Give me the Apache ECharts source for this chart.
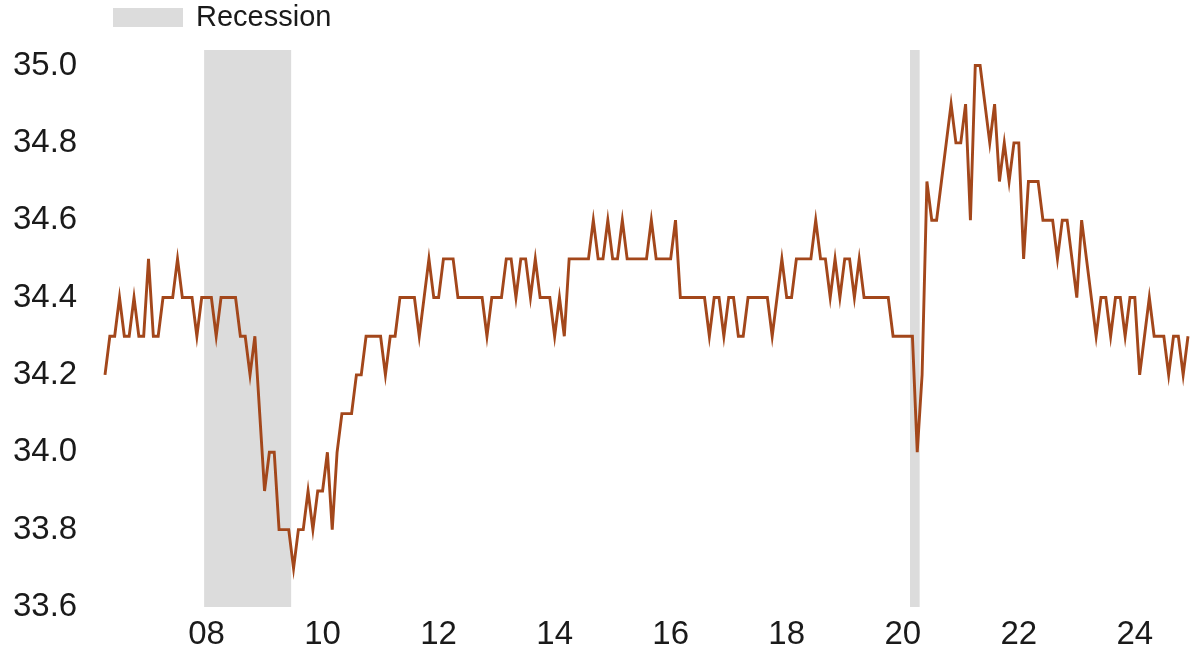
<!DOCTYPE html>
<html>
<head>
<meta charset="utf-8">
<script src="https://cdn.jsdelivr.net/npm/echarts@6/dist/echarts.min.js"></script>
<style>
  html, body { margin: 0; padding: 0; background: #ffffff; }
  #chart { width: 1195px; height: 651px; }
</style>
</head>
<body>
<div id="chart"></div>
<script>
// Monthly series starts here (one value per month, consecutive)
const firstMonth = '2006-03';

// Average weekly hours, Mar 2006 .. Nov 2024
const hours = [
  34.2, 34.3, 34.3, 34.4, 34.3, 34.3, 34.4, 34.3, 34.3, 34.5, // 2006-03..2006-12
  34.3, 34.3, 34.4, 34.4, 34.4, 34.5, 34.4, 34.4, 34.4, 34.3, 34.4, 34.4, // 2007
  34.4, 34.3, 34.4, 34.4, 34.4, 34.4, 34.3, 34.3, 34.2, 34.3, 34.1, 33.9, // 2008
  34.0, 34.0, 33.8, 33.8, 33.8, 33.7, 33.8, 33.8, 33.9, 33.8, 33.9, 33.9, // 2009
  34.0, 33.8, 34.0, 34.1, 34.1, 34.1, 34.2, 34.2, 34.3, 34.3, 34.3, 34.3, // 2010
  34.2, 34.3, 34.3, 34.4, 34.4, 34.4, 34.4, 34.3, 34.4, 34.5, 34.4, 34.4, // 2011
  34.5, 34.5, 34.5, 34.4, 34.4, 34.4, 34.4, 34.4, 34.4, 34.3, 34.4, 34.4, // 2012
  34.4, 34.5, 34.5, 34.4, 34.5, 34.5, 34.4, 34.5, 34.4, 34.4, 34.4, 34.3, // 2013
  34.4, 34.3, 34.5, 34.5, 34.5, 34.5, 34.5, 34.6, 34.5, 34.5, 34.6, 34.5, // 2014
  34.5, 34.6, 34.5, 34.5, 34.5, 34.5, 34.5, 34.6, 34.5, 34.5, 34.5, 34.5, // 2015
  34.6, 34.4, 34.4, 34.4, 34.4, 34.4, 34.4, 34.3, 34.4, 34.4, 34.3, 34.4, // 2016
  34.4, 34.3, 34.3, 34.4, 34.4, 34.4, 34.4, 34.4, 34.3, 34.4, 34.5, 34.4, // 2017
  34.4, 34.5, 34.5, 34.5, 34.5, 34.6, 34.5, 34.5, 34.4, 34.5, 34.4, 34.5, // 2018
  34.5, 34.4, 34.5, 34.4, 34.4, 34.4, 34.4, 34.4, 34.4, 34.3, 34.3, 34.3, // 2019
  34.3, 34.3, 34.0, 34.2, 34.7, 34.6, 34.6, 34.7, 34.8, 34.9, 34.8, 34.8, // 2020
  34.9, 34.6, 35.0, 35.0, 34.9, 34.8, 34.9, 34.7, 34.8, 34.7, 34.8, 34.8, // 2021
  34.5, 34.7, 34.7, 34.7, 34.6, 34.6, 34.6, 34.5, 34.6, 34.6, 34.5, 34.4, // 2022
  34.6, 34.5, 34.4, 34.3, 34.4, 34.4, 34.3, 34.4, 34.4, 34.3, 34.4, 34.4, // 2023
  34.2, 34.3, 34.4, 34.3, 34.3, 34.3, 34.2, 34.3, 34.3, 34.2, 34.3        // 2024
];

// Recession periods (start month, end month)
const recessions = [
  ['2007-12', '2009-06'],
  ['2020-02', '2020-04']
];

// X-axis tick labels (two-digit years)
const yearTicks = ['08', '10', '12', '14', '16', '18', '20', '22', '24'];

// Y-axis ticks
const yMin = 33.6, yStep = 0.2;

function parseYM(s) {
  const p = s.split('-');
  return { y: Number(p[0]), m: Number(p[1]) };
}
// point plotted at end of its month
function monthEnd(y, m) { return y + m / 12; }
function monthMid(s) { const d = parseYM(s); return d.y + (d.m - 0.5) / 12; }

const start = parseYM(firstMonth);
const lineData = hours.map(function (v, i) {
  const total = start.m - 1 + i;
  const y = start.y + Math.floor(total / 12);
  const m = (total % 12) + 1;
  return [monthEnd(y, m), v];
});

const xMin = lineData[0][0];
const xMax = lineData[lineData.length - 1][0];

const chart = echarts.init(document.getElementById('chart'), null, { renderer: 'canvas' });

const FONT = '"Liberation Sans", Arial, Helvetica, sans-serif';

chart.setOption({
  backgroundColor: '#ffffff',
  animation: false,
  grid: { left: 105, right: 7, top: 50, bottom: 44, containLabel: false },
  legend: {
    show: true,
    left: 113,
    top: 3,
    padding: 0,
    icon: 'rect',
    itemWidth: 70,
    itemHeight: 19,
    data: ['Recession'],
    selectedMode: false,
    textStyle: {
      fontFamily: FONT,
      fontSize: 29,
      color: '#1a1a1a',
      padding: [0, 0, 0, 8]
    }
  },
  xAxis: {
    type: 'value',
    min: xMin,
    max: xMax,
    axisLine: { show: false },
    axisTick: { show: false },
    splitLine: { show: false },
    axisLabel: {
      customValues: yearTicks.map(function (t) { return 2000 + Number(t); }),
      formatter: function (v) { return String(Math.round(v)).slice(2); },
      fontFamily: FONT,
      fontSize: 33,
      color: '#1a1a1a',
      margin: 11
    }
  },
  yAxis: {
    type: 'value',
    min: yMin,
    max: 35.04,
    interval: yStep,
    axisLine: { show: false },
    axisTick: { show: false },
    splitLine: { show: false },
    axisLabel: {
      showMaxLabel: false,
      align: 'left',
      margin: 92,
      fontFamily: FONT,
      fontSize: 33,
      color: '#1a1a1a',
      formatter: function (v) { return v.toFixed(1); }
    }
  },
  series: [
    {
      name: 'Recession',
      type: 'line',
      data: [],
      z: 1,
      itemStyle: { color: '#dcdcdc' },
      lineStyle: { color: '#dcdcdc' },
      markArea: {
        silent: true,
        itemStyle: { color: '#dcdcdc', opacity: 1 },
        data: recessions.map(function (r) {
          return [{ xAxis: monthMid(r[0]) }, { xAxis: monthMid(r[1]) }];
        })
      }
    },
    {
      name: 'Hours',
      type: 'line',
      data: lineData,
      z: 3,
      showSymbol: false,
      symbol: 'none',
      lineStyle: { color: '#a3471b', width: 2.9, join: 'miter' },
      itemStyle: { color: '#a3471b' }
    }
  ]
});
</script>
</body>
</html>
